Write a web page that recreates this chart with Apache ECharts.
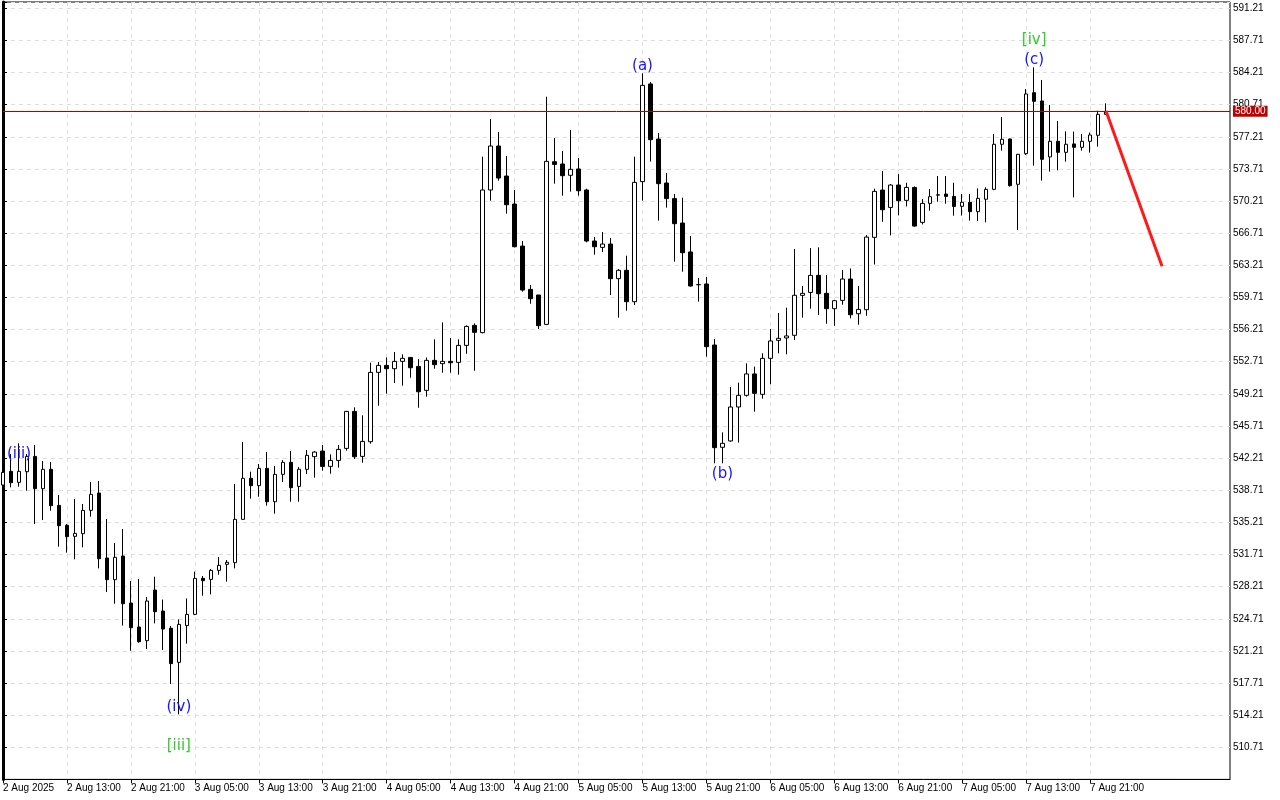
<!DOCTYPE html>
<html><head><meta charset="utf-8">
<script src="https://cdn.jsdelivr.net/npm/echarts@6/dist/echarts.min.js"></script>
<style>html,body{margin:0;padding:0;background:#fff;}#c{width:1280px;height:800px;}</style>
</head><body><div id="c"></div>
<script>
// Tick labels every 8 hourly bars
const xLabels = ['2 Aug 2025','2 Aug 13:00','2 Aug 21:00','3 Aug 05:00','3 Aug 13:00','3 Aug 21:00','4 Aug 05:00','4 Aug 13:00','4 Aug 21:00','5 Aug 05:00','5 Aug 13:00','5 Aug 21:00','6 Aug 05:00','6 Aug 13:00','6 Aug 21:00','7 Aug 05:00','7 Aug 13:00','7 Aug 21:00'];
const labelStep = 8;

const opens = [539.28,540.77,539.57,540.73,542.40,538.88,540.99,537.06,534.89,533.69,
533.98,536.52,538.41,531.33,528.97,531.54,526.42,523.81,522.32,527.84,
525.55,523.67,519.96,523.96,525.19,529.11,529.00,529.98,530.64,530.82,
535.54,540.01,539.21,541.09,537.46,540.44,541.75,539.13,540.99,542.37,
542.98,541.31,541.96,543.27,547.30,542.40,544.00,551.55,552.31,551.95,
552.75,553.18,552.20,549.59,552.86,552.50,552.75,552.64,554.49,556.67,
555.88,571.42,576.21,572.94,569.89,565.31,560.59,559.98,556.78,574.50,
574.25,573.02,573.71,571.42,565.86,565.17,565.53,561.76,562.67,559.25,
572.33,582.97,576.97,572.18,570.48,567.82,564.67,561.11,561.18,554.53,
543.39,544.08,547.78,549.05,551.38,549.16,553.08,555.04,555.30,555.59,
559.94,560.26,562.12,560.16,558.49,559.39,561.72,557.94,558.38,566.26,
571.41,569.52,571.96,570.29,571.70,567.89,569.96,570.86,570.98,570.72,
569.64,570.08,569.06,570.41,571.49,576.40,576.98,572.04,575.38,582.02,
581.12,575.02,576.72,575.52,576.44,576.07,576.72,577.38,579.66];
const closes = [540.66,539.53,540.77,542.40,538.88,540.99,537.03,534.85,533.65,534.01,
536.52,538.26,531.25,528.97,531.40,526.35,523.74,522.21,526.64,525.48,
523.59,519.82,524.10,525.19,529.11,528.86,529.98,530.53,530.86,535.54,
540.01,539.21,541.09,537.46,540.44,541.75,538.99,540.99,542.51,542.87,
541.31,541.96,543.16,547.30,542.36,544.03,551.55,552.31,551.95,552.75,
553.08,552.06,549.44,552.86,552.39,552.75,552.60,554.49,556.56,555.91,
571.42,576.21,572.72,569.82,565.24,560.52,559.58,556.64,574.54,574.21,
572.98,573.67,571.34,565.86,565.24,565.53,561.76,562.67,559.25,572.25,
582.82,576.90,572.11,570.48,567.75,564.59,560.96,561.10,554.35,543.35,
543.82,547.78,549.05,551.38,549.27,553.08,554.97,555.26,555.52,559.95,
560.16,562.12,560.12,558.49,559.36,561.72,557.83,558.41,566.29,571.27,
569.27,571.96,570.25,571.70,567.49,569.96,570.69,570.90,570.72,569.63,
570.08,569.06,570.51,571.49,576.40,576.94,571.89,575.31,581.88,581.08,
574.76,576.72,575.52,576.40,576.07,576.72,577.41,579.66,580.00];
const lows = [538.90,539.02,539.10,538.66,535.03,535.47,536.48,532.56,531.91,531.18,
532.49,535.83,530.20,527.62,526.35,523.96,521.23,522.10,521.41,524.21,
521.30,517.60,514.30,522.00,525.10,527.22,527.37,529.51,528.75,530.20,
535.50,537.79,538.01,537.03,536.16,539.61,537.46,537.46,540.48,540.08,
540.84,540.51,541.17,543.02,542.11,541.71,543.78,547.92,549.23,550.39,
550.10,550.97,547.70,548.90,551.95,551.51,551.51,551.30,553.58,551.73,
555.80,570.25,572.43,568.84,565.17,560.34,559.03,556.28,556.70,572.11,
570.80,571.24,570.80,565.72,564.37,564.66,559.98,557.51,558.27,558.89,
570.26,574.51,568.08,569.50,563.61,562.52,560.89,559.26,553.26,541.64,
541.64,544.00,543.90,548.91,547.27,548.69,550.25,553.63,553.52,555.08,
557.51,558.49,557.80,556.85,556.63,558.92,557.43,556.74,557.72,563.31,
567.96,566.47,568.65,569.63,567.42,567.67,569.16,570.14,569.92,568.62,
568.63,568.08,568.04,567.90,571.40,575.71,571.80,567.06,575.23,574.07,
572.44,573.42,573.56,574.51,570.62,575.71,575.49,576.14,579.60];
const highs = [541.00,542.66,543.82,542.66,543.64,541.89,541.78,538.19,535.03,537.75,
537.21,539.61,539.71,535.58,532.96,534.49,528.82,529.04,527.08,529.29,
526.80,523.92,524.65,526.93,529.84,529.37,530.13,531.44,531.11,539.39,
543.96,540.73,541.57,542.87,541.35,542.00,542.98,541.24,543.09,542.98,
543.63,542.62,543.63,547.35,547.74,546.87,552.60,552.68,553.18,553.77,
553.51,553.18,553.00,553.18,555.15,557.00,555.29,555.15,556.67,556.89,
575.05,579.15,577.73,575.12,571.42,565.86,561.07,559.98,581.58,577.08,
575.67,577.95,574.90,571.56,566.30,566.84,566.19,562.81,564.26,575.05,
584.13,583.18,577.63,573.27,570.98,570.58,566.41,561.83,561.94,555.19,
545.02,549.96,550.43,552.54,552.18,553.63,556.28,558.02,558.60,564.99,
560.95,565.09,565.17,562.15,559.43,562.70,562.88,560.95,566.51,571.56,
573.48,572.07,573.15,572.21,571.81,570.43,571.52,572.94,572.94,572.21,
570.99,570.99,571.60,571.71,577.52,579.37,577.00,575.35,582.42,584.78,
583.40,580.68,578.94,577.81,577.78,577.52,577.67,580.06,580.86];

const yTickMin = 507.21, yTickStep = 3.5, yMax = 591.9;
const xSlots = 153.5;
const lastPrice = 580.00;

const forecastX = [138, 145];
const forecastY = [580.0, 563.1];

const waveText  = ['(iii)', '(iv)', '[iii]', '(a)', '(b)', '[iv]', '(c)'];
const waveX     = [2, 22, 22, 80, 90, 129, 129];
const waveY     = [542.9, 515.3, 511.1, 585.1, 540.7, 588.0, 585.8];
const waveColor = ['#1414ff', '#1414ff', '#33cc33', '#1414ff', '#1414ff', '#33cc33', '#1414ff'];

const candleData = opens.map((o, i) => [i, o, closes[i], lows[i], highs[i]]);
const labelIdx = xLabels.map((_, k) => k * labelStep);

const chart = echarts.init(document.getElementById('c'), null, {renderer: 'canvas'});
const gridLine = {show: true, lineStyle: {color: '#dedede', type: [4, 4], width: 1}};
chart.setOption({
  animation: false,
  backgroundColor: '#fff',
  grid: {left: 2, top: 2, width: 1228, height: 777.4, show: true, borderColor: '#000', borderWidth: 1, backgroundColor: 'transparent'},
  xAxis: {
    type: 'value', min: 0, max: xSlots, interval: 4,
    splitLine: gridLine,
    axisLine: {show: true, onZero: false, lineStyle: {color: '#000', width: 1}},
    axisTick: {show: true, length: 4, customValues: labelIdx, lineStyle: {color: '#000'}},
    axisLabel: {
      show: true, customValues: labelIdx, align: 'left', margin: 4,
      color: '#000', fontSize: 10, fontFamily: 'Liberation Sans',
      formatter: v => (Math.abs(v % labelStep) < 1e-6 && xLabels[v / labelStep]) ? xLabels[v / labelStep] : ''
    }
  },
  yAxis: {
    type: 'value', position: 'right', min: yTickMin, max: yMax, interval: yTickStep, scale: true,
    splitLine: gridLine,
    axisLine: {show: true, lineStyle: {color: '#000', width: 3}},
    axisTick: {show: true, length: 4, lineStyle: {color: '#000'}},
    axisLabel: {
      show: true, margin: 3, color: '#000', fontSize: 10, fontFamily: 'Liberation Sans',
      formatter: v => (v < yTickMin + 1 || v > 591.5) ? '' : v.toFixed(2)
    }
  },
  series: [
    {
      type: 'candlestick', data: candleData, barWidth: 4, clip: false,
      encode: {x: 0, y: [1, 2, 3, 4]},
      itemStyle: {color: '#fff', color0: '#000', borderColor: '#000', borderColor0: '#000', borderWidth: 1},
      markLine: {
        silent: true, symbol: ['none', 'none'], animation: false,
        lineStyle: {color: '#b00000', width: 1, type: 'solid'},
        label: {show: true, position: 'end', distance: 3, formatter: lastPrice.toFixed(2), color: '#fff', backgroundColor: '#c00000', padding: [1, 2, 0, 2], fontSize: 10, fontFamily: 'Liberation Sans'},
        data: [{yAxis: lastPrice}]
      }
    },
    {
      type: 'line', data: forecastX.map((x, i) => [x, forecastY[i]]), symbol: 'none', z: 5,
      lineStyle: {color: '#ff1a1a', width: 3}
    },
    {
      type: 'scatter', symbolSize: 0.1, itemStyle: {color: 'transparent', opacity: 1}, z: 6,
      data: waveText.map((t, i) => ({value: [waveX[i], waveY[i]], label: {formatter: t, color: waveColor[i], opacity: 1}})),
      label: {show: true, position: 'inside', offset: [0, 2], fontSize: 15, fontFamily: 'DejaVu Sans', opacity: 1}
    }
  ]
});
</script>
</body></html>
